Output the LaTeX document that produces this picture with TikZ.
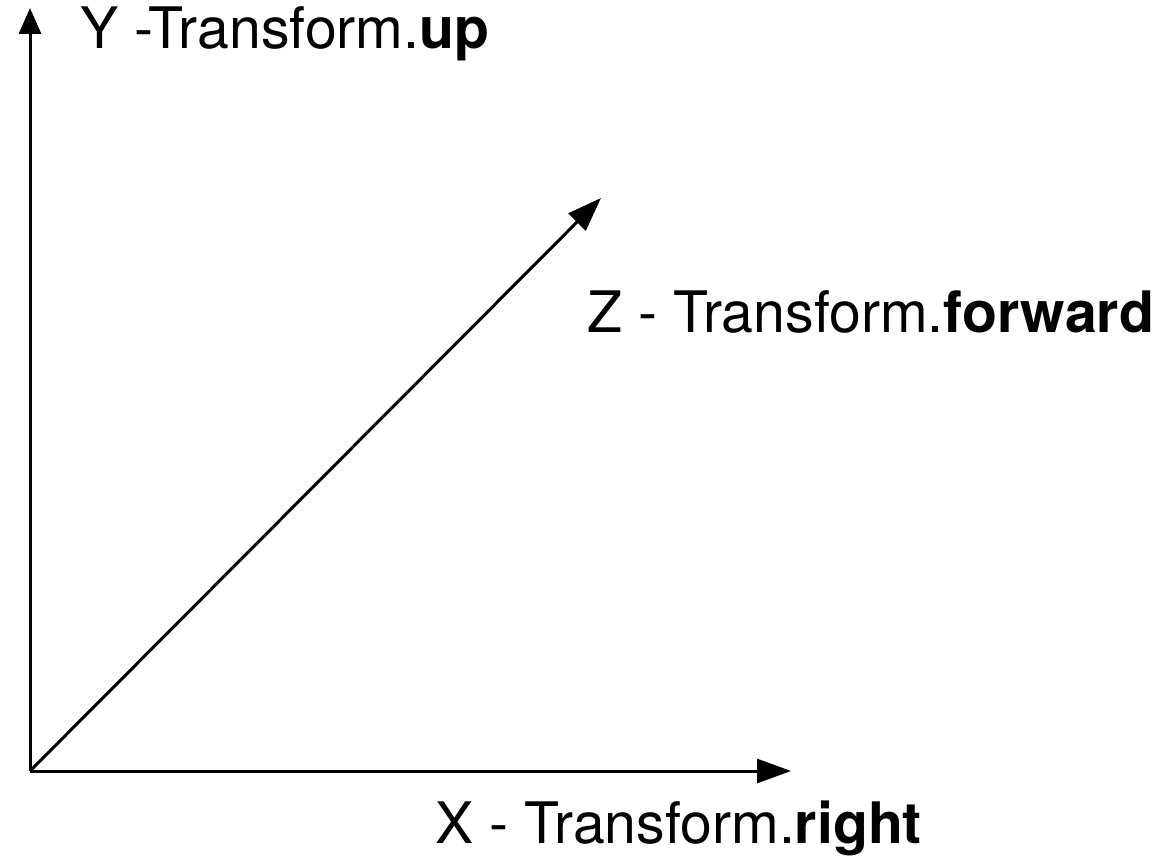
\documentclass[tikz,border=0pt]{standalone}
\usepackage{fontspec}
\setmainfont{TeX Gyre Heros}
\usetikzlibrary{arrows.meta}
\begin{document}
\begin{tikzpicture}[x=0.5pt,y=-0.5pt,
  axis/.style={line width=1.5pt,-{Triangle[length=17pt,width=12pt]}},
  lbl/.style={inner sep=0pt,anchor=base west,font=\fontsize{28.6}{34}\selectfont}]
\useasboundingbox (0,0) rectangle (1173,866);
\coordinate (O) at (30,771);
\coordinate (Ytip) at (30,8);
\coordinate (Xtip) at (791,771);
\coordinate (Ztip) at (601,198);
\draw[axis,-{Triangle[length=13pt,width=11pt]}] (O) -- (Ytip);
\draw[axis] (O) -- (Xtip);
\draw[axis] (O) -- (Ztip);
\node[lbl] (ylab) at (80,49) {Y -Transform.\textbf{up}};
\node[lbl] (zlab) at (587,333) {Z - Transform.\textbf{forward}};
\node[lbl] (xlab) at (435,843) {X - Transform.\textbf{right}};
\end{tikzpicture}
\end{document}
